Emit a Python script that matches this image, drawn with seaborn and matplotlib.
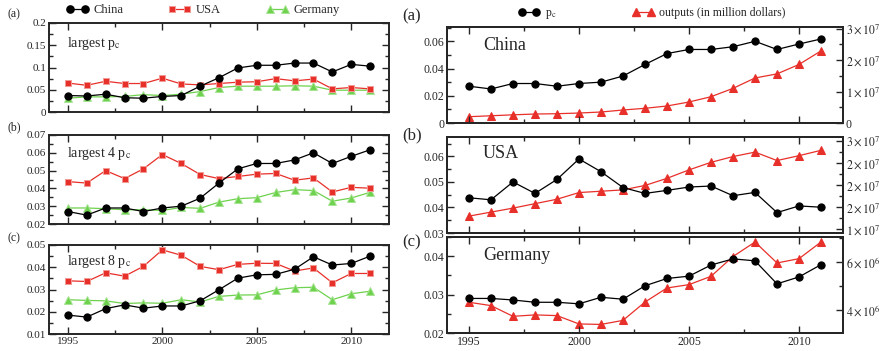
import numpy as np
import matplotlib
matplotlib.use("Agg")
import matplotlib.pyplot as plt
from matplotlib.ticker import MultipleLocator, FuncFormatter
from matplotlib.lines import Line2D
import seaborn as sns

years = list(range(1995, 2012))

# largest p_c
china_1 = [0.037, 0.036, 0.040, 0.032, 0.031, 0.035, 0.037, 0.058, 0.077, 0.099, 0.105, 0.105, 0.110, 0.110, 0.090, 0.107, 0.103]
usa_1 = [0.065, 0.060, 0.069, 0.064, 0.064, 0.076, 0.063, 0.061, 0.064, 0.067, 0.068, 0.075, 0.070, 0.074, 0.052, 0.055, 0.052]
germany_1 = [0.031, 0.034, 0.034, 0.035, 0.039, 0.037, 0.040, 0.046, 0.055, 0.058, 0.058, 0.058, 0.059, 0.058, 0.049, 0.049, 0.049]

# largest 4 p_c
china_4 = [0.027, 0.025, 0.029, 0.029, 0.027, 0.029, 0.030, 0.0345, 0.043, 0.051, 0.054, 0.054, 0.056, 0.060, 0.054, 0.058, 0.0617]
usa_4 = [0.0438, 0.043, 0.050, 0.0455, 0.051, 0.059, 0.054, 0.0478, 0.0455, 0.0467, 0.048, 0.0484, 0.0446, 0.0459, 0.038, 0.0406, 0.0401]
germany_4 = [0.029, 0.029, 0.0286, 0.028, 0.028, 0.0276, 0.0293, 0.0288, 0.0323, 0.0342, 0.0348, 0.0377, 0.0393, 0.0388, 0.0328, 0.0346, 0.0378]

# largest 8 p_c
china_8 = [0.0185, 0.0176, 0.0214, 0.0231, 0.0216, 0.0226, 0.0226, 0.0249, 0.0299, 0.0351, 0.0366, 0.0368, 0.0391, 0.0447, 0.0410, 0.0417, 0.0450]
usa_8 = [0.0339, 0.0336, 0.0375, 0.036, 0.0404, 0.0478, 0.0454, 0.0404, 0.0389, 0.0413, 0.0418, 0.0417, 0.0383, 0.0397, 0.033, 0.0372, 0.0372]
germany_8 = [0.0254, 0.0251, 0.0249, 0.0237, 0.024, 0.0238, 0.0254, 0.0244, 0.0269, 0.0275, 0.0276, 0.0298, 0.0308, 0.031, 0.0254, 0.0281, 0.0292]

# outputs (in million dollars)
china_out = [0.20e7, 0.23e7, 0.26e7, 0.285e7, 0.295e7, 0.317e7, 0.349e7, 0.413e7, 0.467e7, 0.54e7, 0.667e7, 0.835e7, 1.10e7, 1.43e7, 1.56e7, 1.86e7, 2.29e7]
usa_out = [1.30e7, 1.39e7, 1.48e7, 1.58e7, 1.68e7, 1.83e7, 1.86e7, 1.89e7, 1.99e7, 2.15e7, 2.34e7, 2.51e7, 2.64e7, 2.74e7, 2.55e7, 2.66e7, 2.78e7]
germany_out = [4.31e6, 4.17e6, 3.72e6, 3.78e6, 3.75e6, 3.40e6, 3.38e6, 3.55e6, 4.32e6, 4.91e6, 5.05e6, 5.40e6, 6.23e6, 6.84e6, 5.96e6, 6.14e6, 6.84e6]

sns.set_style("ticks")
plt.rcParams["font.family"] = ["Liberation Serif", "DejaVu Serif"]
plt.rcParams["mathtext.fontset"] = "stix"
plt.rcParams["xtick.direction"] = "in"
plt.rcParams["ytick.direction"] = "in"

W, H = 884, 351
fig = plt.figure(figsize=(W / 100, H / 100), dpi=100)


def box(x0, y0, x1, y1):
    return [x0 / W, 1 - y1 / H, (x1 - x0) / W, (y1 - y0) / H]


black = dict(color="black", marker="o", markersize=5.2, markeredgecolor="black", linewidth=0.9)
red_sq = dict(color="#e8302a", marker="s", markersize=4.8, markeredgecolor="#f39a95", markeredgewidth=0.7, linewidth=0.9)
green = dict(color="#6fd24e", marker="^", markersize=5.4, markeredgecolor="#a6e493", markeredgewidth=0.7, linewidth=0.9)
red_tri = dict(color="#e8302a", marker="^", markersize=5.6, markeredgecolor="#e8302a", linewidth=0.9)


def gfmt(v, pos):
    return "%g" % round(v, 6)


def sci(v, pos):
    if abs(v) < 1:
        return "0"
    e = int(np.floor(np.log10(abs(v)) + 1e-9))
    m = round(v / 10 ** e)
    return rf"${m}\times10^{{{e}}}$"


def style(ax, ylim, major, minor, show_x, right=True, fs=8):
    ax.set_xlim(1994, 2012)
    ax.set_ylim(*ylim)
    ax.xaxis.set_major_locator(MultipleLocator(5))
    ax.xaxis.set_minor_locator(MultipleLocator(2.5))
    ax.yaxis.set_major_locator(MultipleLocator(major))
    ax.yaxis.set_minor_locator(MultipleLocator(minor))
    ax.yaxis.set_major_formatter(FuncFormatter(gfmt))
    ax.tick_params(which="both", top=True, right=right, labelsize=fs, pad=2)
    ax.tick_params(which="major", length=5, width=1)
    ax.tick_params(which="minor", length=3, width=1)
    ax.xaxis.set_minor_formatter(FuncFormatter(lambda v, p: ""))
    if not show_x:
        ax.tick_params(labelbottom=False)
    for s in ax.spines.values():
        s.set_linewidth(1.4)
    ax.set_xlabel("")
    ax.set_ylabel("")


# left column
left = [
    (box(49, 23, 389, 112), china_1, usa_1, germany_1, (0, 0.2), 0.05, 0.025, "largest p$_\\mathrm{c}$", 43, "(a)", 14),
    (box(49, 135, 389, 224), china_4, usa_4, germany_4, (0.02, 0.07), 0.01, 0.005, "largest 4 p$_\\mathrm{c}$", 153, "(b)", 127),
    (box(49, 245, 389, 334), china_8, usa_8, germany_8, (0.01, 0.05), 0.01, 0.005, "largest 8 p$_\\mathrm{c}$", 262, "(c)", 238),
]
for i, (rect, c, u, g, ylim, mj, mn, txt, ty, lab, ly) in enumerate(left):
    ax = fig.add_axes(rect)
    sns.lineplot(x=years, y=g, ax=ax, **green)
    sns.lineplot(x=years, y=u, ax=ax, **red_sq)
    sns.lineplot(x=years, y=c, ax=ax, **black)
    style(ax, ylim, mj, mn, i == 2, fs=8)
    fig.text(67 / W, 1 - ty / H, txt, fontsize=10, va="center", ha="left")
    fig.text(8 / W, 1 - ly / H, lab, fontsize=8.5, va="center", ha="left")

handles = [Line2D([], [], **black), Line2D([], [], **red_sq), Line2D([], [], **green)]
fig.legend(handles, ["China", "USA", "Germany"], loc="center", bbox_to_anchor=(203 / W, 1 - 10 / H),
           ncol=3, frameon=False, fontsize=9, handlelength=1.8, columnspacing=3.6, handletextpad=0.4,
           numpoints=2, borderpad=0)

# right column
right = [
    (box(447, 27, 843, 123), china_4, china_out, (0, 0.0705), 0.02, 0.01, (0, 3.05e7), 1e7, 0.5e7, "China", 45, "(a)", 16),
    (box(447, 137, 843, 233), usa_4, usa_out, (0.03, 0.0676), 0.01, 0.005, (0.92e7, 3.08e7), 0.5e7, 0.25e7, "USA", 153, "(b)", 135),
    (box(447, 237, 843, 333), germany_4, germany_out, (0.02, 0.045), 0.01, 0.005, (3.02e6, 7.05e6), 2e6, 1e6, "Germany", 255, "(c)", 242),
]
for i, (rect, pc, out, ylim, mj, mn, ylim2, mj2, mn2, txt, ty, lab, ly) in enumerate(right):
    ax = fig.add_axes(rect)
    ax2 = ax.twinx()
    sns.lineplot(x=years, y=out, ax=ax2, **red_tri)
    sns.lineplot(x=years, y=pc, ax=ax, **black)
    ax.set_zorder(ax2.get_zorder() + 1)
    ax.patch.set_visible(False)
    style(ax, ylim, mj, mn, i == 2, right=False, fs=8.5)
    ax2.set_ylim(*ylim2)
    ax2.yaxis.set_major_locator(MultipleLocator(mj2))
    ax2.yaxis.set_minor_locator(MultipleLocator(mn2))
    ax2.yaxis.set_major_formatter(FuncFormatter(sci))
    ax2.tick_params(which="both", labelsize=8.5, pad=2)
    ax2.tick_params(which="major", length=5, width=1)
    ax2.tick_params(which="minor", length=3, width=1)
    ax2.set_ylabel("")
    for s in ax2.spines.values():
        s.set_linewidth(1.4)
    fig.text(483 / W, 1 - ty / H, txt, fontsize=13, va="center", ha="left")
    fig.text(402 / W, 1 - ly / H, lab, fontsize=12, va="center", ha="left")

handles = [Line2D([], [], **black), Line2D([], [], **red_tri)]
fig.legend(handles, ["p$_\\mathrm{c}$", "outputs (in million dollars)"], loc="center",
           bbox_to_anchor=(652 / W, 1 - 14 / H), ncol=2, frameon=False, fontsize=8.5,
           handlelength=1.8, columnspacing=6.5, handletextpad=0.4, numpoints=2, borderpad=0)

fig.savefig("out.png", dpi=100)
